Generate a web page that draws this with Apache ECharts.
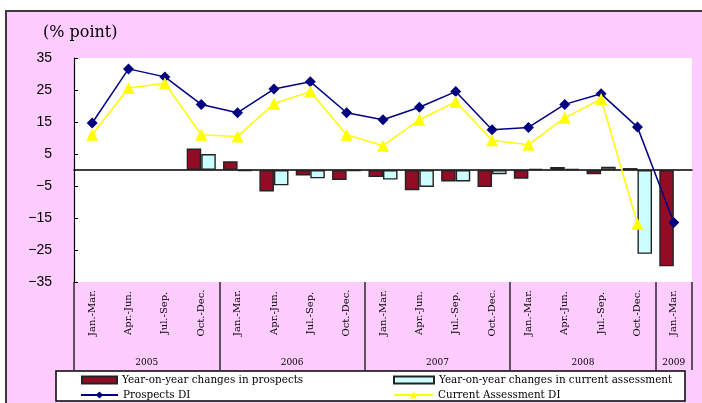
<!DOCTYPE html>
<html>
<head>
<meta charset="utf-8">
<script src="https://cdn.jsdelivr.net/npm/echarts@6/dist/echarts.min.js"></script>
<style>
  html, body { margin: 0; padding: 0; background: #fff; }
  #wrap { position: relative; width: 702px; height: 403px; overflow: hidden; background: #fff; }
  #panel { position: absolute; left: 5px; top: 10px; right: 0; bottom: 0;
           background: #ffccff; border-top: 2px solid #3a3a3a; border-left: 2px solid #3a3a3a; }
  #chart { position: absolute; left: 0; top: 0; width: 702px; height: 403px; }
</style>
</head>
<body>
<div id="wrap">
  <div id="panel"></div>
  <div id="chart"></div>
</div>
<script>
// Quarterly categories and the year groups they belong to
const quarters = [
  'Jan.-Mar.', 'Apr.-Jun.', 'Jul.-Sep.', 'Oct.-Dec.',
  'Jan.-Mar.', 'Apr.-Jun.', 'Jul.-Sep.', 'Oct.-Dec.',
  'Jan.-Mar.', 'Apr.-Jun.', 'Jul.-Sep.', 'Oct.-Dec.',
  'Jan.-Mar.', 'Apr.-Jun.', 'Jul.-Sep.', 'Oct.-Dec.',
  'Jan.-Mar.'
];
const years = ['2005', '2006', '2007', '2008', '2009'];
const quartersPerYear = [4, 4, 4, 4, 1];

// Diffusion indices (% point)
const prospectsDI = [14.7, 31.6, 29.1, 20.5, 17.9, 25.3, 27.6, 17.9, 15.7, 19.6, 24.5, 12.6, 13.3, 20.5, 23.8, 13.4, -16.4];
const currentDI   = [11.0, 25.6, 27.1, 11.0, 10.5, 20.7, 24.5, 11.0, 7.6, 15.7, 21.3, 9.3, 7.9, 16.3, 22.2, -16.8, null];

// Year-on-year changes (% point)
const yoyProspects = [null, null, null, 6.7, 2.7, -6.7, -1.7, -3.1, -2.2, -6.3, -3.6, -5.3, -2.7, 0.9, -1.3, 0.6, -30.1];
const yoyCurrent   = [null, null, null, 5.0, -0.3, -4.8, -2.6, -0.3, -3.0, -5.3, -3.6, -1.3, 0.3, 0.3, 1.0, -26.2, null];

// y-axis range
const yMin = -35, yMax = 35, yStep = 10;

// Year group boundaries and centres on a 0..N scale
const yearBounds = [0];
quartersPerYear.forEach(n => yearBounds.push(yearBounds[yearBounds.length - 1] + n));
const yearCentres = quartersPerYear.map((n, i) => yearBounds[i] + n / 2);

const serif = 'DejaVu Serif';
const chart = echarts.init(document.getElementById('chart'), null, { renderer: 'canvas' });

const legendText = { fontFamily: serif, fontSize: 10.4, color: '#000' };

chart.setOption({
  backgroundColor: 'transparent',
  animation: false,
  title: {
    text: '(% point)', left: 43, top: 25, padding: 0,
    textStyle: { fontFamily: serif, fontSize: 16, fontWeight: 'normal', color: '#000' }
  },
  graphic: [{
    type: 'rect', z: 1, silent: true,
    shape: { x: 56, y: 371, width: 629, height: 30 },
    style: { fill: '#fff', stroke: '#000', lineWidth: 1.5 }
  }],
  legend: [
    { data: ['Year-on-year changes in prospects'], left: 81, top: 375, padding: 0,
      itemWidth: 35, itemHeight: 7, icon: 'rect', textStyle: legendText },
    { data: ['Year-on-year changes in current assessment'], left: 393, top: 375, padding: 0,
      itemWidth: 40, itemHeight: 7, icon: 'rect', textStyle: legendText },
    { data: ['Prospects DI'], left: 80, top: 390, padding: 0,
      itemWidth: 37, itemHeight: 9, textStyle: legendText },
    { data: ['Current Assessment DI'], left: 393, top: 390, padding: 0,
      itemWidth: 39, itemHeight: 9, textStyle: legendText }
  ],
  grid: {
    left: 74, right: 10, top: 58, bottom: 121,
    show: true, backgroundColor: '#fff', borderWidth: 0
  },
  xAxis: [
    { // axis line across zero
      type: 'category', data: quarters, boundaryGap: true,
      axisLine: { onZero: true, lineStyle: { color: '#000', width: 1.5 } },
      axisTick: { inside: true, length: 3, lineStyle: { color: '#000' } },
      axisLabel: { show: false }
    },
    { // quarter labels and separators below the plot
      type: 'category', data: quarters, boundaryGap: true, position: 'bottom',
      axisLine: { show: false, onZero: false },
      axisTick: { length: 63, lineStyle: { color: '#2a2a2a', width: 1.5 } },
      axisLabel: {
        rotate: 90, align: 'center', verticalAlign: 'middle', margin: 31,
        fontFamily: serif, fontSize: 10, color: '#000'
      }
    },
    { // year groups
      type: 'value', min: 0, max: yearBounds[yearBounds.length - 1], position: 'bottom',
      axisLine: { show: false, onZero: false },
      splitLine: { show: false },
      axisTick: { show: true, customValues: yearBounds, length: 88, lineStyle: { color: '#2a2a2a', width: 1.5 } },
      axisLabel: {
        customValues: yearCentres, margin: 76,
        fontFamily: serif, fontSize: 9, color: '#000',
        formatter: v => { const i = yearCentres.indexOf(v); return i >= 0 ? years[i] : ''; }
      }
    }
  ],
  yAxis: {
    type: 'value', min: yMin, max: yMax, interval: yStep,
    axisLine: { show: true, onZero: false, lineStyle: { color: '#000', width: 1.2 } },
    axisTick: { show: true, inside: true, length: 4, lineStyle: { color: '#000' } },
    splitLine: { show: false },
    axisLabel: {
      margin: 22, fontFamily: 'Liberation Sans', fontSize: 14, color: '#000',
      formatter: v => String(v).replace('-', '\u2212')
    }
  },
  series: [
    {
      name: 'Year-on-year changes in prospects', type: 'bar', xAxisIndex: 0,
      data: yoyProspects, barGap: '0%', barCategoryGap: '20%',
      itemStyle: { color: '#920c26', borderColor: '#222', borderWidth: 1.4 }
    },
    {
      name: 'Year-on-year changes in current assessment', type: 'bar', xAxisIndex: 0,
      data: yoyCurrent, barGap: '0%', barCategoryGap: '20%',
      itemStyle: { color: '#ccffff', borderColor: '#222', borderWidth: 1.4 }
    },
    {
      name: 'Prospects DI', type: 'line', xAxisIndex: 0, data: prospectsDI,
      symbol: 'diamond', symbolSize: 11,
      lineStyle: { color: '#000080', width: 1.5 },
      itemStyle: { color: '#000080' }
    },
    {
      name: 'Current Assessment DI', type: 'line', xAxisIndex: 0, data: currentDI,
      symbol: 'triangle', symbolSize: 12,
      lineStyle: { color: '#ffff00', width: 1.5 },
      itemStyle: { color: '#ffff00' }
    }
  ]
});
</script>
</body>
</html>
